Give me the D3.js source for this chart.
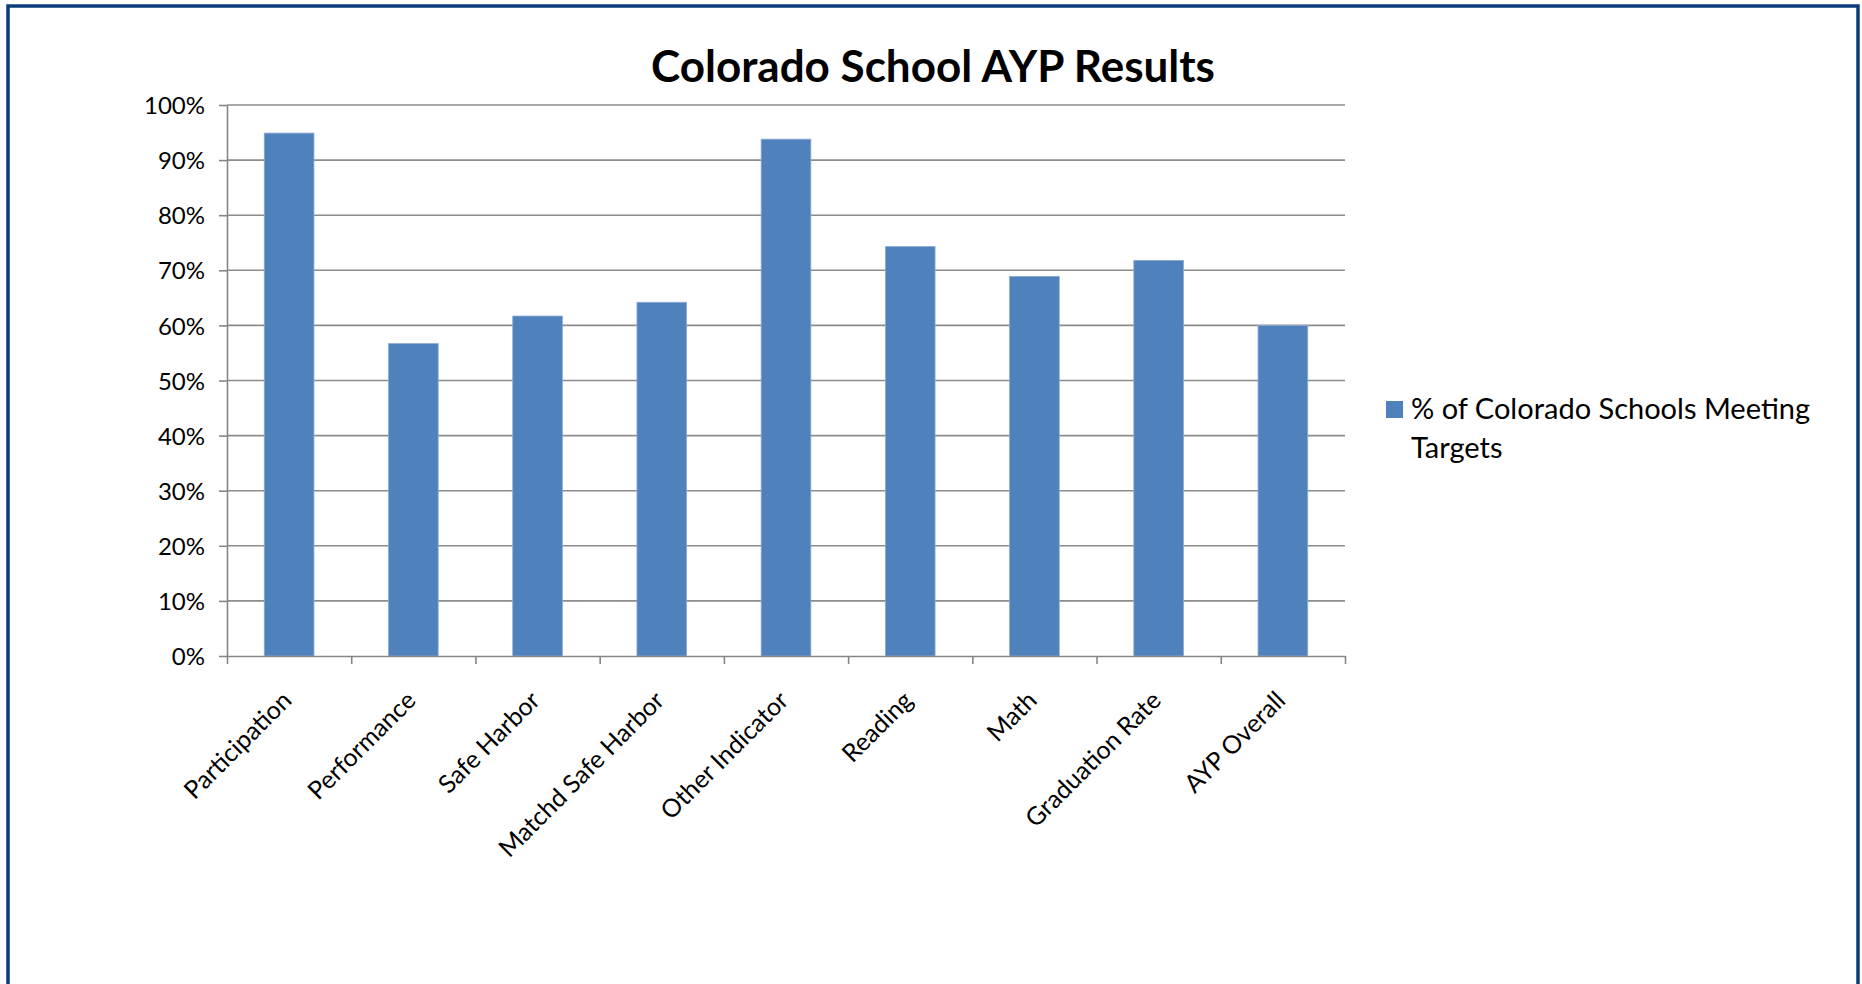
<!DOCTYPE html>
<meta charset="utf-8">
<style>
  body { margin: 0; background: #fff; }
  svg { font-family: Lato, "Open Sans", sans-serif; }
  .grid line { stroke: #8c8c8c; stroke-width: 1.6; }
  .axis path, .axis line { stroke: #868686; stroke-width: 1.6; }
  .axis text { fill: #000; }
</style>
<body>
<svg width="1862" height="984"></svg>
<script src="https://cdn.jsdelivr.net/npm/d3@7"></script>
<script>

var categories = ["Participation", "Performance", "Safe Harbor", "Matchd Safe Harbor",
  "Other Indicator", "Reading", "Math", "Graduation Rate", "AYP Overall"];
var values = [0.949, 0.567, 0.617, 0.642, 0.938, 0.743, 0.689, 0.718, 0.600];
var yTicks = [0, 0.1, 0.2, 0.3, 0.4, 0.5, 0.6, 0.7, 0.8, 0.9, 1.0];
var seriesName = ["% of Colorado Schools Meeting", "Targets"];
var title = "Colorado School AYP Results";

var svg = d3.select("svg");
var barColor = "#4f81bd";

// chart frame
svg.append("rect")
    .attr("x", 8).attr("y", 6)
    .attr("width", 1850).attr("height", 1000)
    .attr("fill", "#fff")
    .attr("stroke", "#0c3c7c")
    .attr("stroke-width", 3.5);

var plotLeft = 227, plotRight = 1345, plotTop = 105, plotBottom = 656;

var x = d3.scaleBand()
    .domain(categories)
    .range([plotLeft, plotRight])
    .paddingInner(0.6)
    .paddingOuter(0.3);

var xb = d3.scaleLinear().domain([0, categories.length]).range([plotLeft, plotRight]);

var y = d3.scaleLinear().domain([0, 1]).range([plotBottom, plotTop]);

// title
svg.append("text")
    .attr("x", 933)
    .attr("y", 82)
    .attr("text-anchor", "middle")
    .style("font-weight", "bold")
    .style("font-size", "44px")
    .text(title);

// gridlines
svg.append("g")
    .attr("class", "grid")
  .selectAll("line")
    .data(yTicks.slice(1))
  .enter().append("line")
    .attr("x1", plotLeft).attr("x2", plotRight)
    .attr("y1", function(d) { return y(d); })
    .attr("y2", function(d) { return y(d); });

// bars
svg.append("g")
  .selectAll("rect")
    .data(values)
  .enter().append("rect")
    .attr("x", function(d, i) { return x(categories[i]); })
    .attr("y", function(d) { return y(d); })
    .attr("width", x.bandwidth())
    .attr("height", function(d) { return y(0) - y(d); })
    .attr("fill", barColor)
    .attr("stroke", "#8eaad6")
    .attr("stroke-width", 0.8);

// y axis
var yAxis = svg.append("g")
    .attr("class", "axis")
    .attr("transform", "translate(" + plotLeft + ",0)")
    .call(d3.axisLeft(y).tickValues(yTicks).tickFormat(d3.format(".0%")).tickSize(8).tickSizeOuter(0));
yAxis.selectAll("text")
    .attr("x", -22)
    .attr("dy", "0.36em")
    .style("font-size", "24px")
    .style("font-family", "Lato, sans-serif");

// x axis (ticks between categories)
svg.append("g")
    .attr("class", "axis")
    .attr("transform", "translate(0," + plotBottom + ")")
    .call(d3.axisBottom(xb).tickValues(d3.range(categories.length + 1)).tickFormat("").tickSize(8).tickSizeOuter(0));

// category labels, rotated
svg.append("g")
  .selectAll("text")
    .data(categories)
  .enter().append("text")
    .attr("transform", function(d) {
      var cx = x(d) + x.bandwidth() / 2 + 4;
      return "translate(" + cx + "," + (plotBottom + 46) + ") rotate(-45)";
    })
    .attr("text-anchor", "end")
    .style("font-size", "25px")
    .text(function(d) { return d; });

// legend
var legend = svg.append("g");
legend.append("rect")
    .attr("x", 1386).attr("y", 401)
    .attr("width", 17).attr("height", 17)
    .attr("fill", barColor);
legend.append("text")
    .attr("x", 1411)
    .attr("y", 419)
    .style("font-size", "29px")
  .selectAll("tspan")
    .data(seriesName)
  .enter().append("tspan")
    .attr("x", 1411)
    .attr("dy", function(d, i) { return i ? 39 : 0; })
    .text(function(d) { return d; });

</script>
</body>
